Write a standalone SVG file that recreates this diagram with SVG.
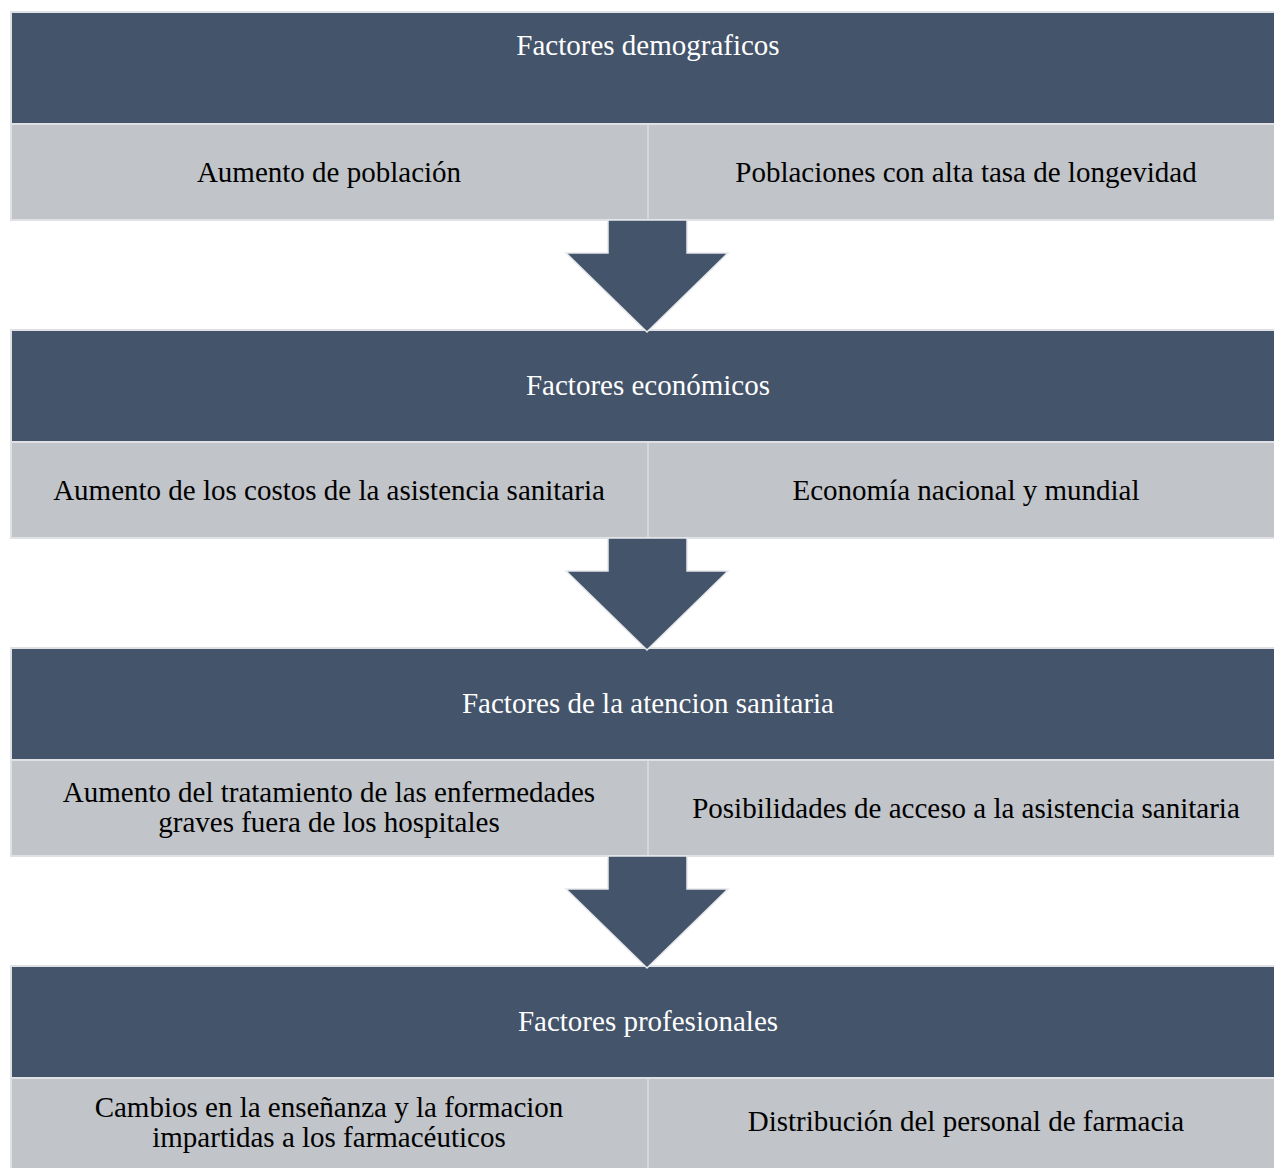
<svg xmlns="http://www.w3.org/2000/svg" width="1274" height="1168" viewBox="0 0 1274 1168">
  <style>
    .hdr { fill: #44546a; stroke: #dfe1e4; stroke-width: 2; }
    .cell { fill: #c1c4c8; stroke: #dfe1e4; stroke-width: 2; }
    .sep { stroke: #d4d7db; stroke-width: 2; }
    .arrow { fill: #44546a; stroke: #e6e8eb; stroke-width: 1.5; stroke-linejoin: miter; }
    text { font-family: "Liberation Serif", "Times New Roman", serif; font-size: 29px; text-anchor: middle; }
    .ht { fill: #ffffff; }
    .ct { fill: #000000; }
  </style>
  <defs>
    <path id="down-arrow" d="M608,220 H687 V253 H728 L647,332 L566,253 H608 Z"/>
  </defs>

  <rect width="1274" height="1168" fill="#ffffff"/>

  <!-- Demographic factors -->
  <g id="demograficos">
    <rect class="hdr" x="11" y="12" width="1274" height="112"/>
    <rect class="cell" x="11" y="124" width="1274" height="96"/>
    <line class="sep" x1="648" y1="125" x2="648" y2="219"/>
    <text class="ht" x="648" y="55">Factores demograficos</text>
    <text class="ct" x="329" y="182">Aumento de población</text>
    <text class="ct" x="966" y="182">Poblaciones con alta tasa de longevidad</text>
  </g>

  <!-- Economic factors -->
  <g id="economicos">
    <rect class="hdr" x="11" y="330" width="1274" height="112"/>
    <rect class="cell" x="11" y="442" width="1274" height="96"/>
    <line class="sep" x1="648" y1="443" x2="648" y2="537"/>
    <text class="ht" x="648" y="395">Factores económicos</text>
    <text class="ct" x="329" y="500">Aumento de los costos de la asistencia sanitaria</text>
    <text class="ct" x="966" y="500">Economía nacional y mundial</text>
  </g>

  <!-- Health-care factors -->
  <g id="atencion">
    <rect class="hdr" x="11" y="648" width="1274" height="112"/>
    <rect class="cell" x="11" y="760" width="1274" height="96"/>
    <line class="sep" x1="648" y1="761" x2="648" y2="855"/>
    <text class="ht" x="648" y="713">Factores de la atencion sanitaria</text>
    <text class="ct" x="329" y="802">Aumento del tratamiento de las enfermedades</text>
    <text class="ct" x="329" y="832">graves fuera de los hospitales</text>
    <text class="ct" x="966" y="818">Posibilidades de acceso a la asistencia sanitaria</text>
  </g>

  <!-- Professional factors -->
  <g id="profesionales">
    <rect class="hdr" x="11" y="966" width="1274" height="112"/>
    <rect class="cell" x="11" y="1078" width="1274" height="96"/>
    <line class="sep" x1="648" y1="1079" x2="648" y2="1168"/>
    <text class="ht" x="648" y="1031">Factores profesionales</text>
    <text class="ct" x="329" y="1117">Cambios en la enseñanza y la formacion</text>
    <text class="ct" x="329" y="1147">impartidas a los farmacéuticos</text>
    <text class="ct" x="966" y="1131">Distribución del personal de farmacia</text>
  </g>

  <!-- Block arrows between stages -->
  <g id="connectors">
    <use href="#down-arrow" class="arrow"/>
    <use href="#down-arrow" class="arrow" transform="translate(0,318)"/>
    <use href="#down-arrow" class="arrow" transform="translate(0,636)"/>
  </g>
</svg>
